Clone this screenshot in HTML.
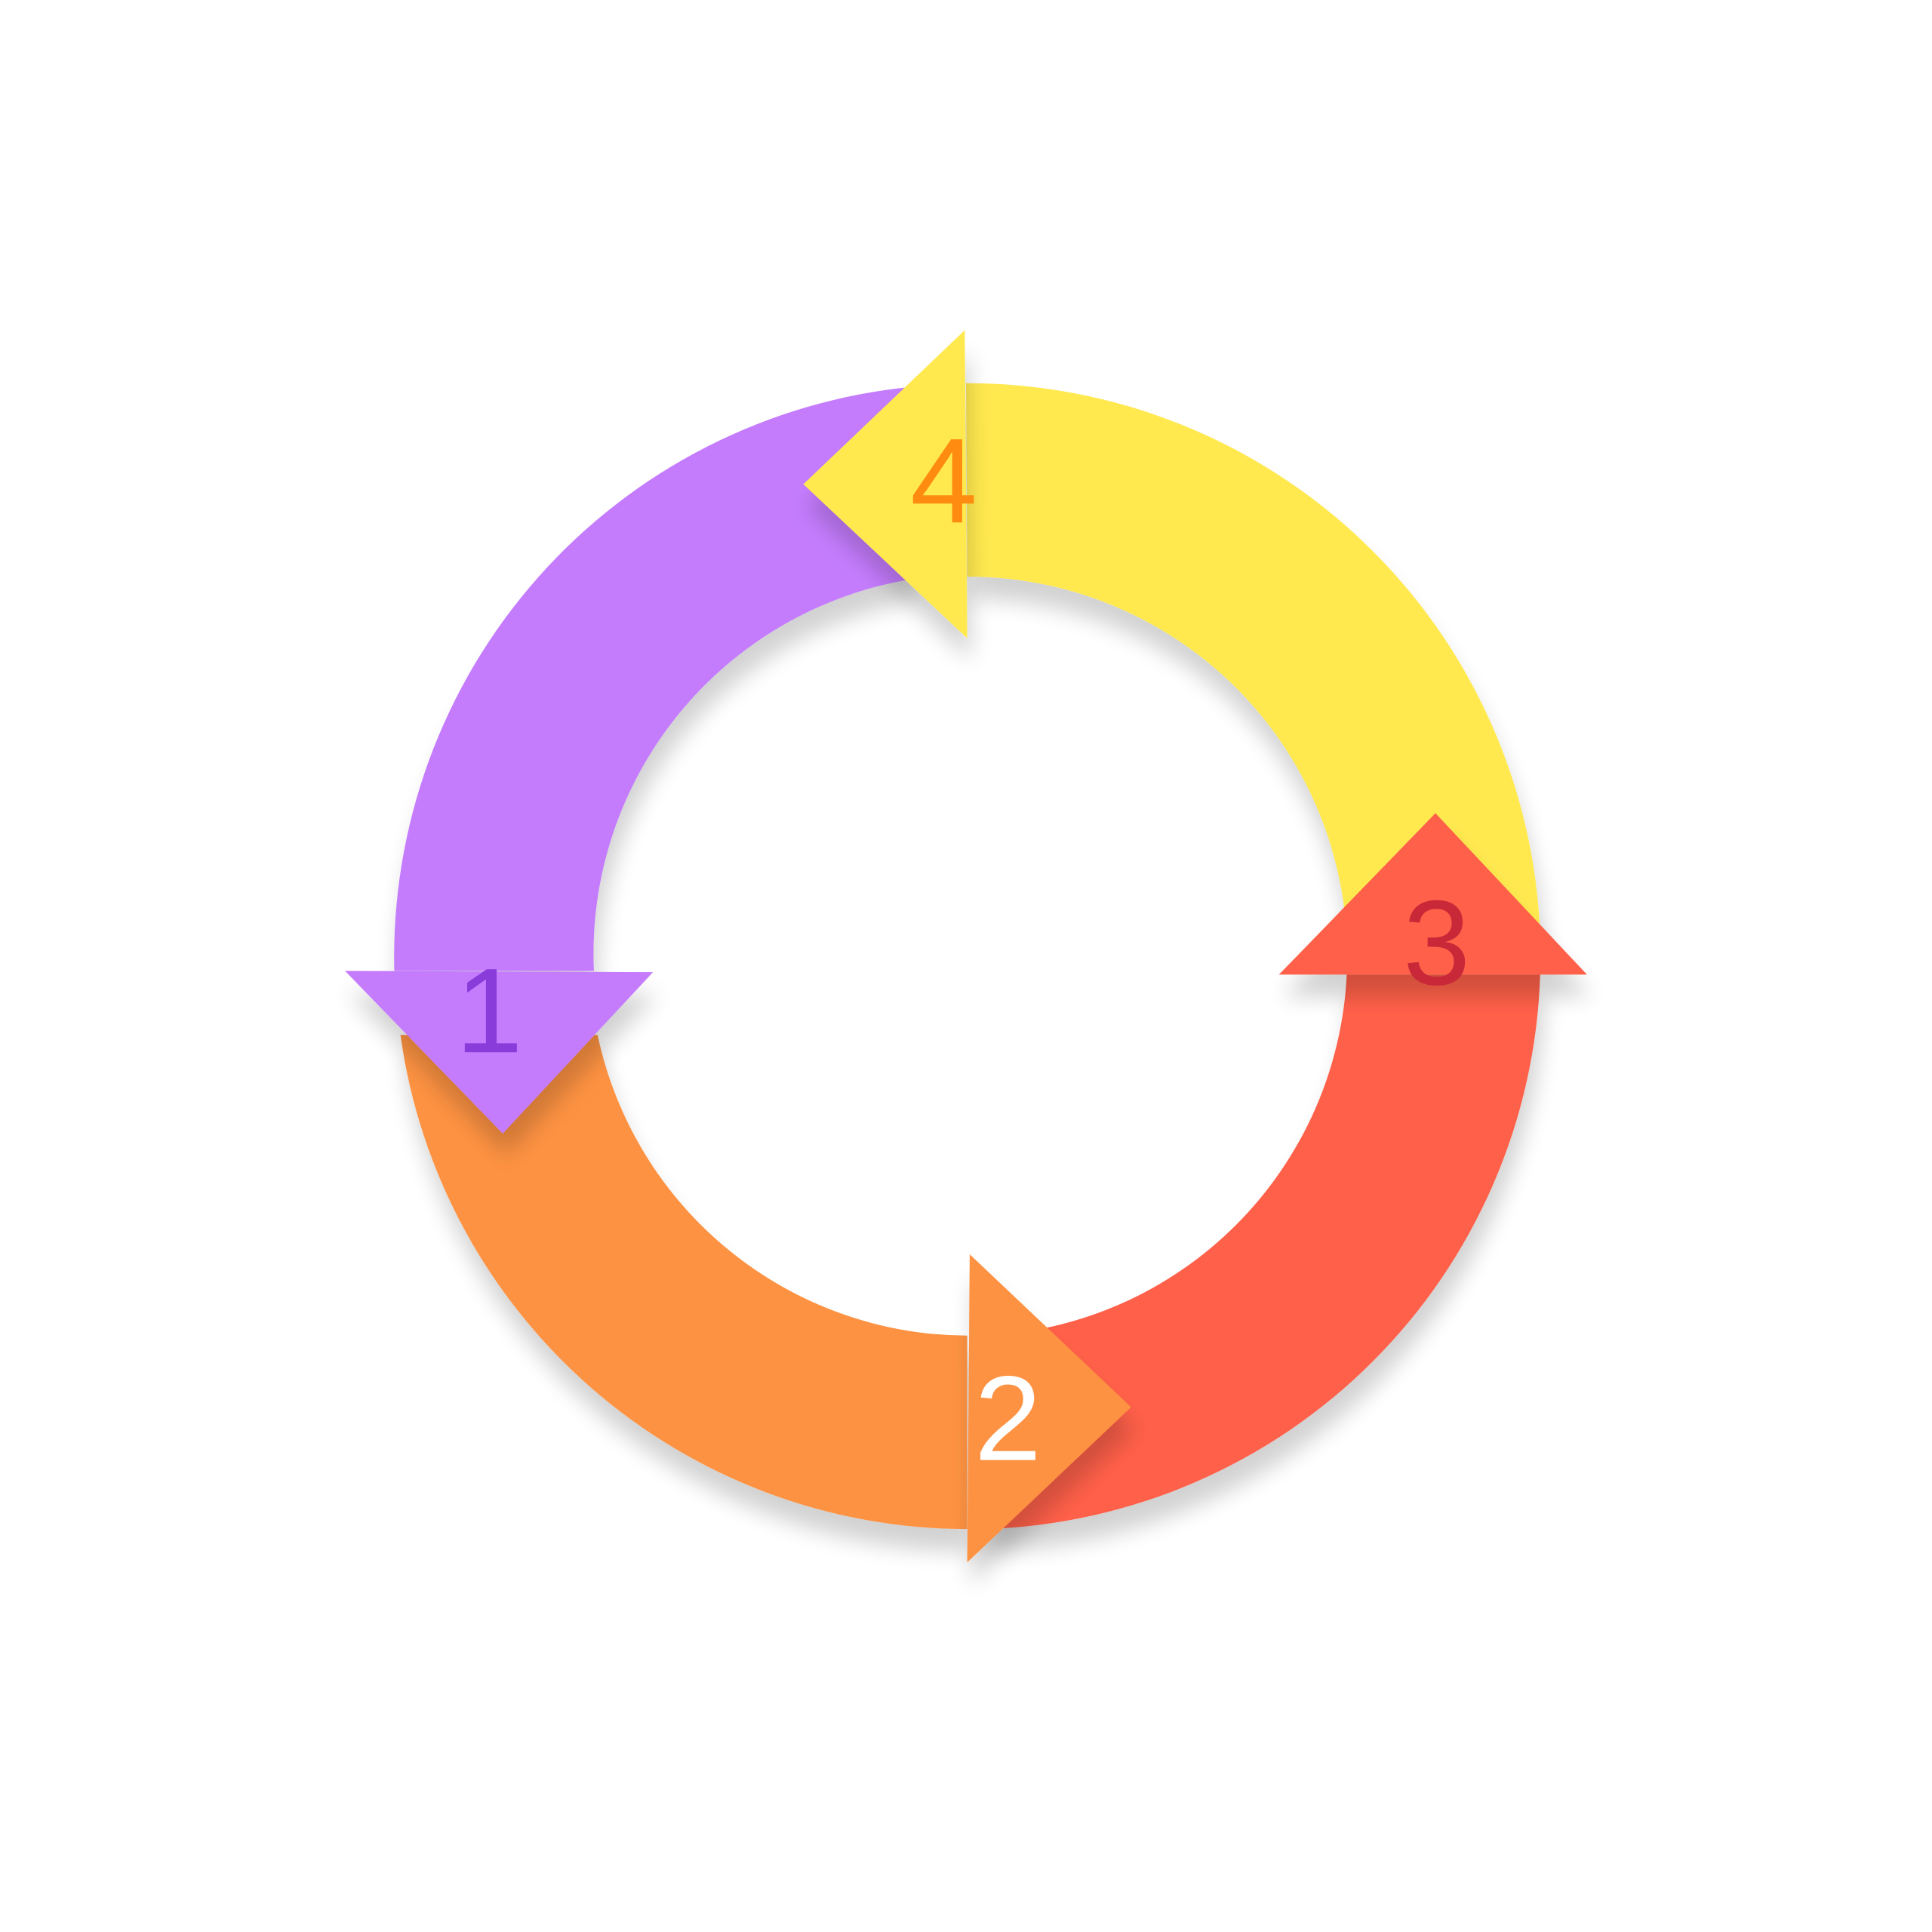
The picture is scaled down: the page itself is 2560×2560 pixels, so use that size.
<!DOCTYPE html>
<html>
<head>
<meta charset="utf-8">
<style>
html,body{margin:0;padding:0;background:#fff;}
svg{display:block;}
text{font-family:"Liberation Sans","DejaVu Sans",sans-serif;font-size:98px;text-anchor:middle;}
</style>
</head>
<body>
<svg width="2560" height="2560" viewBox="0 0 1568 1568" xmlns="http://www.w3.org/2000/svg">
<defs>
<filter id="sh" x="-20%" y="-20%" width="140%" height="140%">
<feGaussianBlur in="SourceAlpha" stdDeviation="9"/>
<feOffset dx="3" dy="18" result="b"/>
<feComponentTransfer><feFuncA type="linear" slope="0.18"/></feComponentTransfer>
<feMerge><feMergeNode/><feMergeNode in="SourceGraphic"/></feMerge>
</filter>
</defs>
<g filter="url(#sh)">
<path d="M785,1241 A465,465 0 0 1 325,840 L485,840 A308,308 0 0 0 785,1084 Z" fill="#FD9242"/>
<path d="M1250,791 A465,465 0 0 1 800,1241 L800,1084 A308,308 0 0 0 1093,791 Z" fill="#FF604A"/>
<path d="M320,788 A465,465 0 0 1 740,314 L740,470 A308,308 0 0 0 482,788 Z" fill="#C47BFD"/>
<path d="M784,311 A465,465 0 0 1 1250,760 L1093,760 A308,308 0 0 0 785,468 Z" fill="#FFE94F"/>
</g>
<g filter="url(#sh)">
<polygon points="787,1018 918,1142 785,1268" fill="#FD9242"/>
<polygon points="280,788 408,920 530,789" fill="#C47BFD"/>
<polygon points="1038,791 1165,660 1288,791" fill="#FF604A"/>
<polygon points="783,268 652,393 785,518" fill="#FFE94F"/>
</g>
<text x="397" y="854" fill="#8A3CDA">1</text>
<text x="818" y="1185" fill="#FFFFFF">2</text>
<text x="1166" y="799" fill="#C82838">3</text>
<text x="766" y="424" fill="#FF8C10">4</text>
</svg>
</body>
</html>
